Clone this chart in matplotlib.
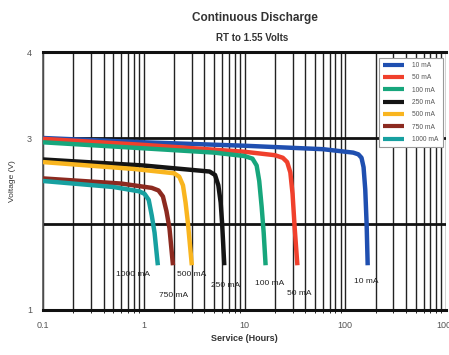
import matplotlib
matplotlib.use("Agg")
import matplotlib.pyplot as plt

plt.rcParams['font.family'] = ['Liberation Sans', 'DejaVu Sans']

# discharge curves, hours vs volts
labels = ["10 mA", "50 mA", "100 mA", "250 mA", "500 mA", "750 mA", "1000 mA"]
colors = ["#1f4fb0", "#f0402c", "#17a67c", "#141414", "#f9b51f", "#8c2a20", "#17a0a0"]

h_10 = [0.1, 1, 10, 60, 120, 135, 145, 152, 158, 163, 167]
v_10 = [3.0, 2.95, 2.91, 2.87, 2.83, 2.81, 2.77, 2.66, 2.40, 2.00, 1.52]
h_50 = [0.1, 1, 10, 20, 24, 26.5, 28.5, 30, 31.5, 33.5]
v_50 = [2.99, 2.92, 2.84, 2.80, 2.77, 2.72, 2.60, 2.35, 1.95, 1.52]
h_100 = [0.1, 1, 5, 10, 12, 13.2, 14.0, 14.8, 15.5, 16.2]
v_100 = [2.95, 2.88, 2.83, 2.79, 2.76, 2.68, 2.50, 2.20, 1.90, 1.52]
h_250 = [0.1, 1, 4.5, 5.1, 5.5, 5.8, 6.0, 6.3]
v_250 = [2.75, 2.68, 2.61, 2.57, 2.45, 2.25, 2.00, 1.52]
h_500 = [0.1, 0.8, 2.0, 2.25, 2.45, 2.6, 2.75, 3.0]
v_500 = [2.72, 2.64, 2.59, 2.55, 2.45, 2.25, 2.00, 1.52]
h_750 = [0.1, 0.6, 1.2, 1.4, 1.55, 1.68, 1.8, 1.95]
v_750 = [2.53, 2.47, 2.42, 2.39, 2.32, 2.15, 1.95, 1.52]
h_1000 = [0.1, 0.5, 0.9, 1.02, 1.12, 1.2, 1.28, 1.38]
v_1000 = [2.50, 2.43, 2.38, 2.35, 2.28, 2.10, 1.90, 1.52]

hours = [h_10, h_50, h_100, h_250, h_500, h_750, h_1000]
volts = [v_10, v_50, v_100, v_250, v_500, v_750, v_1000]

# end-of-curve annotations
note_x = [161, 35, 17.7, 6.5, 3.0, 1.98, 0.78]
note_y = [1.33, 1.19, 1.31, 1.29, 1.41, 1.17, 1.41]

fig = plt.figure(figsize=(4.49, 3.55), dpi=100)
ax = fig.add_axes([0.0958, 0.1268, 0.8975, 0.7267])

for h, v, c, lab in zip(hours, volts, colors, labels):
    ax.plot(h, v, color=c, lw=3.2, label=lab, solid_capstyle='butt',
            solid_joinstyle='round', zorder=3)

for lab, x, y in zip(labels, note_x, note_y):
    ax.text(x, y, lab, fontsize=6, color="#222222", ha='center', va='center',
            zorder=4)

ax.set_xscale('log')
ax.set_xlim(0.1, 1000)
ax.set_ylim(1, 4)
ax.set_yticks([1, 3, 4])
ax.set_xticks([0.1, 1, 10, 100, 1000])
ax.set_xticklabels(["0.1", "1", "10", "100", "1000"])
ax.tick_params(axis='both', length=0, labelsize=6.5, colors="#555555", pad=8)

ax.grid(True, which='both', axis='x', color='#222222', lw=1.0)
for yv in [2, 3]:
    ax.axhline(yv, color='#111111', lw=2.0, zorder=2)

for s in ['top', 'bottom']:
    ax.spines[s].set_linewidth(2.2)
    ax.spines[s].set_color('#111111')
ax.spines['left'].set_color('#555555')
ax.spines['left'].set_linewidth(1.2)
ax.spines['right'].set_visible(False)

ax.set_xlabel("Service (Hours)", fontsize=6.5, fontweight='bold', color="#333333",
              labelpad=3)
ax.set_ylabel("Voltage (V)", fontsize=6, color="#333333", labelpad=8)

fig.text(0.568, 0.948, "Continuous Discharge", fontsize=8.5, fontweight='bold',
         color="#333333", ha='center', va='center')
fig.text(0.562, 0.893, "RT to 1.55 Volts", fontsize=7, fontweight='bold',
         color="#333333", ha='center', va='center')

leg = ax.legend(loc='upper right', bbox_to_anchor=(1.0, 0.99), fontsize=4.8,
                frameon=True, fancybox=False, edgecolor='#999999',
                handlelength=3.2, handletextpad=1.2, labelspacing=0.8,
                borderpad=0.6, framealpha=1, labelcolor='#555555')
leg.get_frame().set_linewidth(0.8)
for line in leg.get_lines():
    line.set_linewidth(3.0)

fig.savefig("out.png", dpi=100)
